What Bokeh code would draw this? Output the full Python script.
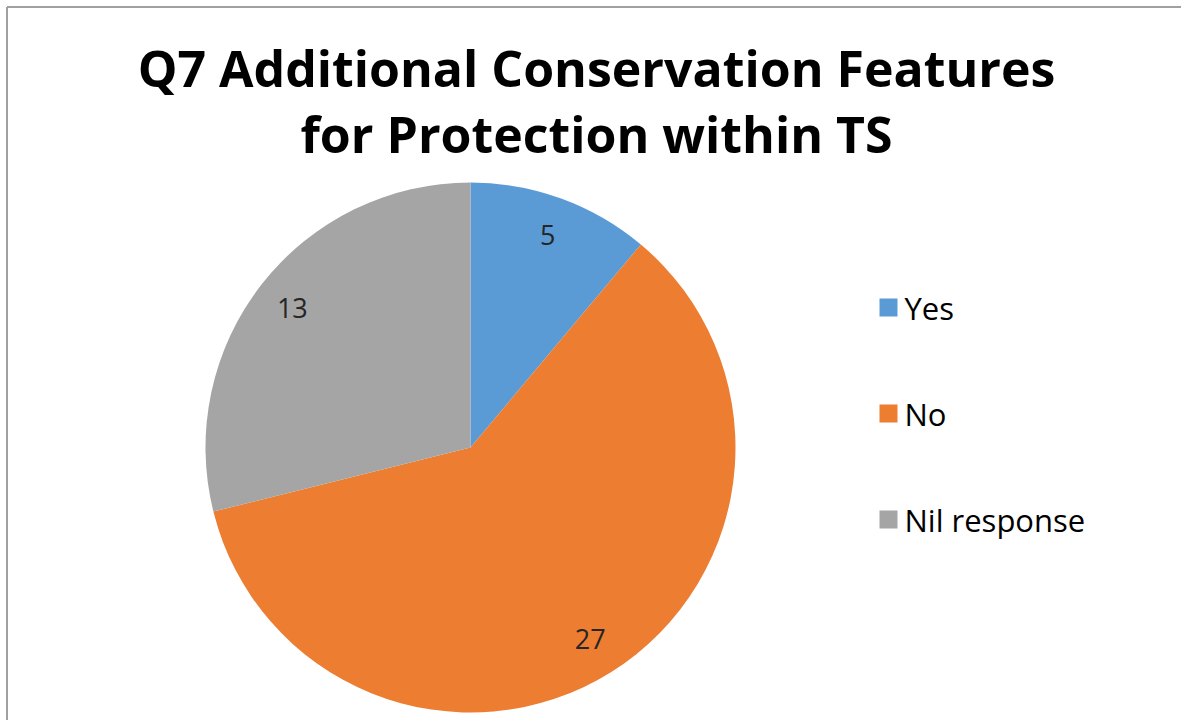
import math
from bokeh.plotting import figure
from bokeh.models import Range1d, ColumnDataSource
from bokeh.core.properties import value
from bokeh.embed import file_html
from bokeh.resources import INLINE

# ---- data ----
categories = ["Yes", "No", "Nil response"]
counts = [5, 27, 13]
colors = ["#5B9BD5", "#ED7D31", "#A5A5A5"]
title_lines = ["Q7 Additional Conservation Features", "for Protection within TS"]

W, H = 1181, 720
p = figure(width=W, height=H, x_range=Range1d(0, W), y_range=Range1d(0, H),
           output_backend="svg", toolbar_location=None, min_border=0)
p.axis.visible = False
p.grid.visible = False
p.outline_line_color = None
p.background_fill_color = "white"
p.border_fill_color = "white"

# chart border (top and left edges visible)
p.segment(x0=[6.5, 6.5], y0=[H - 6.5, H - 6.5], x1=[6.5, W], y1=[0, H - 6.5],
          line_color="#a0a0a0", line_width=2)

# pie
cx, cy, R = 470, H - 447, 265
total = sum(counts)
starts, ends, mids = [], [], []
cum = 0
for v in counts:
    a0 = math.pi / 2 - 2 * math.pi * cum / total
    cum += v
    a1 = math.pi / 2 - 2 * math.pi * cum / total
    starts.append(a0)
    ends.append(a1)
    mids.append((a0 + a1) / 2)

src = ColumnDataSource(dict(start=starts, end=ends, color=colors, cat=categories))
p.wedge(x=cx, y=cy, radius=R, start_angle="start", end_angle="end",
        direction="clock", fill_color="color", line_color=None, source=src)

# data labels
lr = 0.853 * R
lab = ColumnDataSource(dict(
    x=[cx + lr * math.cos(m) for m in mids],
    y=[cy + lr * math.sin(m) for m in mids],
    t=[str(v) for v in counts]))
p.text(x="x", y="y", text="t", source=lab, text_align="center", text_baseline="middle",
       text_font=value("Open Sans"), text_font_size="27px", text_color="#262626")

# title
p.text(x=[596, 596], y=[H - 67, H - 133], text=title_lines, text_align="center",
       text_baseline="middle", text_font=value("Open Sans"), text_font_style="bold",
       text_font_size="50px", text_color="#000000")

# legend
ly = [H - 307 - 106 * i for i in range(len(categories))]
p.scatter(x=[888] * len(categories), y=ly, marker="square", size=18,
          fill_color=colors, line_color=None)
p.text(x=[904] * len(categories), y=ly, text=categories, text_align="left",
       text_baseline="middle", text_font=value("Open Sans"), text_font_size="31px",
       text_color="#000000")

html = file_html(p, INLINE)
html = html.replace("<head>", "<head><style>html,body{margin:0;padding:0;overflow:hidden}</style>", 1)
open("out.html", "w").write(html)
